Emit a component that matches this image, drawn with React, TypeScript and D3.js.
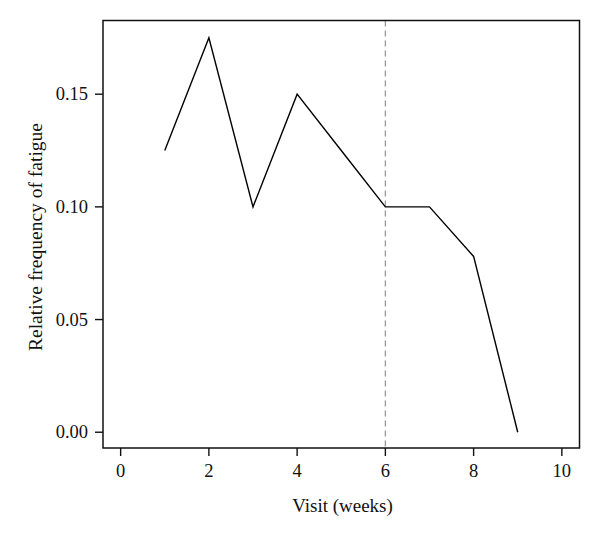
import React from "react";
import * as d3 from "d3";

const weeks = [1, 2, 3, 4, 5, 6, 7, 8, 9];
const fatigue = [0.125, 0.175, 0.1, 0.15, 0.125, 0.1, 0.1, 0.078, 0.0];
const xTicks = [0, 2, 4, 6, 8, 10];
const yTicks = [0.0, 0.05, 0.1, 0.15];
const cutoffWeek = 6;

const W = 600;
const H = 537;
const left = 103;
const right = 579.5;
const top = 20.5;
const bottom = 448;

export default function App() {
  const x = d3.scaleLinear().domain([-0.4, 10.4]).range([left, right]);
  const y = d3.scaleLinear().domain([-0.007, 0.1827]).range([bottom, top]);
  const pts = weeks.map((w, i) => [w, fatigue[i]] as [number, number]);
  const line = d3
    .line<[number, number]>()
    .x((d) => x(d[0]))
    .y((d) => y(d[1]));
  const font = "'Liberation Serif', 'DejaVu Serif', serif";
  return (
    <svg
      width={W}
      height={H}
      style={{ position: "absolute", left: 0, top: 0, background: "#fff" }}
      fontFamily={font}
    >
      <rect x={0} y={0} width={W} height={H} fill="#fff" />
      <line
        x1={x(cutoffWeek)}
        x2={x(cutoffWeek)}
        y1={top}
        y2={bottom}
        stroke="#999"
        strokeWidth={1.3}
        strokeDasharray="6,4"
      />
      <path d={line(pts) || ""} fill="none" stroke="#000" strokeWidth={1.4} />
      <rect
        x={left}
        y={top}
        width={right - left}
        height={bottom - top}
        fill="none"
        stroke="#111"
        strokeWidth={1.5}
      />
      {xTicks.map((t) => (
        <g key={"x" + t}>
          <line x1={x(t)} x2={x(t)} y1={bottom} y2={bottom + 8} stroke="#111" strokeWidth={1.4} />
          <text x={x(t)} y={bottom + 29} textAnchor="middle" fontSize={18.5} fill="#111">
            {t}
          </text>
        </g>
      ))}
      {yTicks.map((t) => (
        <g key={"y" + t}>
          <line x1={left - 8} x2={left} y1={y(t)} y2={y(t)} stroke="#111" strokeWidth={1.4} />
          <text x={left - 15} y={y(t) + 6} textAnchor="end" fontSize={18.5} fill="#111">
            {d3.format(".2f")(t)}
          </text>
        </g>
      ))}
      <text x={342.5} y={511.5} textAnchor="middle" fontSize={19} fill="#111">
        Visit (weeks)
      </text>
      <text
        transform={`translate(42, 237) rotate(-90)`}
        textAnchor="middle"
        fontSize={19.5}
        fill="#111"
      >
        Relative frequency of fatigue
      </text>
    </svg>
  );
}
